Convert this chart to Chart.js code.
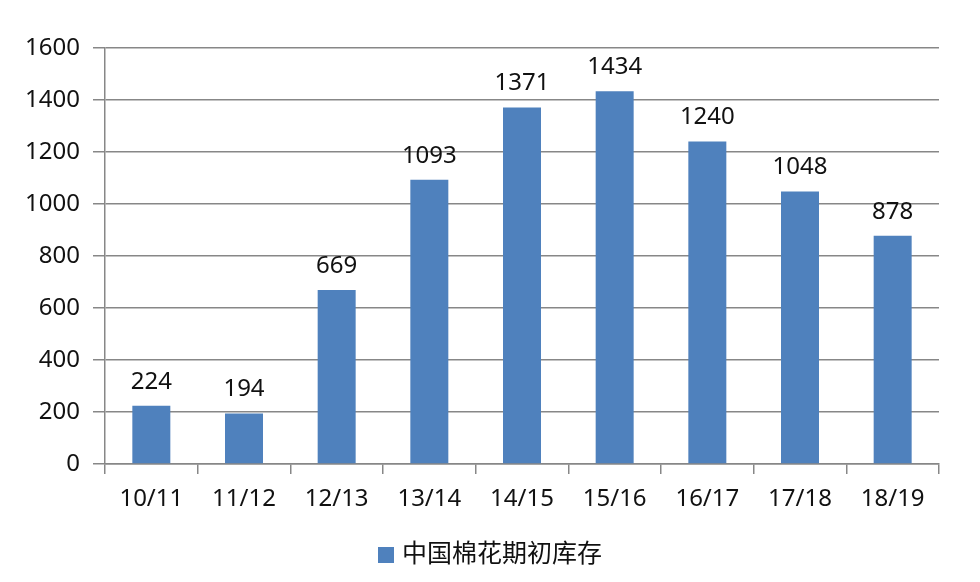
<!DOCTYPE html>
<html lang="zh">
<head>
<meta charset="UTF-8">
<title>中国棉花期初库存</title>
<style>
  html, body { margin: 0; padding: 0; background: #fff; }
  #wrap { width: 980px; height: 582px; position: relative; }
</style>
<script src="https://cdn.jsdelivr.net/npm/chart.js"></script>
</head>
<body>
<div id="wrap"><canvas id="stockChart"></canvas></div>
<script>
// Daten
const seasons = ['10/11', '11/12', '12/13', '13/14', '14/15', '15/16', '16/17', '17/18', '18/19'];
const stockValues = [224, 194, 669, 1093, 1371, 1434, 1240, 1048, 878];
const seriesName = '中国棉花期初库存';

const gridColor = '#878787';
const barColor = '#4f81bd';
const numFont = '"Noto Sans", "DejaVu Sans", sans-serif';
const cjkFont = '"Noto Sans CJK SC", sans-serif';

// Werte über den Balken
const valueLabels = {
    id: 'valueLabels',
    afterDatasetsDraw(chart) {
        const ctx = chart.ctx;
        const meta = chart.getDatasetMeta(0);
        ctx.save();
        ctx.font = '24px ' + numFont;
        ctx.fillStyle = '#111';
        ctx.textAlign = 'center';
        ctx.textBaseline = 'middle';
        meta.data.forEach((bar, i) => {
            ctx.fillText(String(stockValues[i]), bar.x, bar.y - 24);
        });
        ctx.restore();
    }
};

// Legende mittig unter dem ganzen Bild
const bottomLegend = {
    id: 'bottomLegend',
    afterDraw(chart) {
        const ctx = chart.ctx;
        const ds = chart.data.datasets[0];
        ctx.save();
        ctx.font = '25px ' + cjkFont;
        const tw = ctx.measureText(ds.label).width;
        const total = 16 + 8 + tw;
        const x0 = chart.width / 2 - total / 2;
        const cy = 552;
        ctx.fillStyle = ds.backgroundColor;
        ctx.fillRect(x0, cy - 5, 16, 16);
        ctx.fillStyle = '#111';
        ctx.textAlign = 'left';
        ctx.textBaseline = 'middle';
        ctx.fillText(ds.label, x0 + 24, cy);
        ctx.restore();
    }
};

new Chart(document.getElementById('stockChart'), {
    type: 'bar',
    data: {
        labels: seasons,
        datasets: [{
            label: seriesName,
            data: stockValues,
            backgroundColor: barColor,
            borderWidth: 0,
            barPercentage: 0.41,
            categoryPercentage: 1.0
        }]
    },
    options: {
        responsive: true,
        maintainAspectRatio: false,
        animation: false,
        layout: { padding: { left: 0, right: 41, top: 48, bottom: 58 } },
        scales: {
            x: {
                grid: {
                    drawOnChartArea: false,
                    drawTicks: true,
                    tickLength: 10,
                    offset: true,
                    color: gridColor,
                    lineWidth: 1.5
                },
                border: { color: gridColor, width: 1.5 },
                ticks: {
                    font: { size: 24, family: numFont },
                    color: '#111',
                    padding: 11,
                    maxRotation: 0
                },
                afterFit(scale) { scale.height = 60; }
            },
            y: {
                min: 0,
                max: 1600,
                ticks: {
                    stepSize: 200,
                    font: { size: 24, family: numFont },
                    color: '#111',
                    padding: 13,
                    callback: v => String(v)
                },
                grid: {
                    color: gridColor,
                    lineWidth: 1.5,
                    tickLength: 12
                },
                border: { color: gridColor, width: 1.5 },
                afterFit(scale) { scale.width = 105; }
            }
        },
        plugins: {
            legend: { display: false },
            tooltip: { enabled: false }
        }
    },
    plugins: [valueLabels, bottomLegend]
});
</script>
</body>
</html>
